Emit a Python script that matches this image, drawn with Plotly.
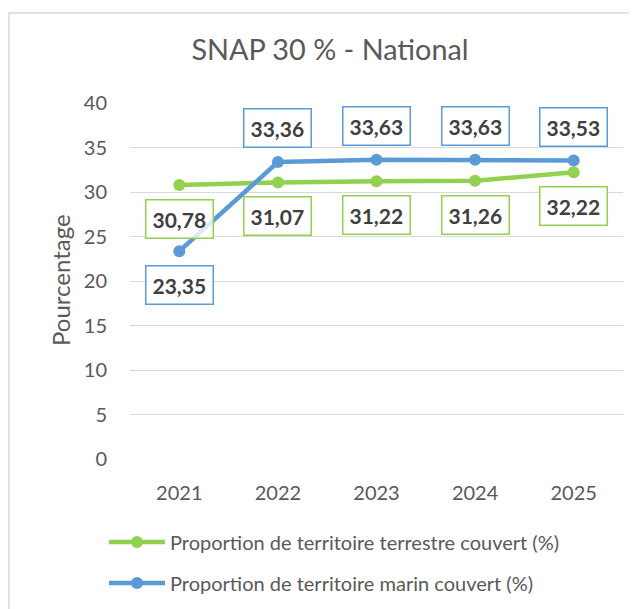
import plotly.graph_objects as go

years = ["2021", "2022", "2023", "2024", "2025"]
terrestre = [30.78, 31.07, 31.22, 31.26, 32.22]
marin = [23.35, 33.36, 33.63, 33.63, 33.53]
terrestre_labels = ["30,78", "31,07", "31,22", "31,26", "32,22"]
marin_labels = ["23,35", "33,36", "33,63", "33,63", "33,53"]
y_ticks = [0, 5, 10, 15, 20, 25, 30, 35, 40]

# label placement (style): +1 above the point, -1 below
terrestre_side = [-1, -1, -1, -1, -1]
marin_side = [-1, 1, 1, 1, 1]

GREEN = "#92D050"
BLUE = "#5B9BD5"
TXT = "#595959"
FONT = "Lato"

OFF = 8  # page body margin
W, H = 637 - OFF, 609 - OFF
L, R, T, B = 130 - OFF, W - (623 - OFF), 103 - OFF, H - (459 - OFF)
pw, ph = W - L - R, H - T - B

def px_x(sx):
    return (sx - OFF - L) / pw

def px_y(sy):
    return (H - B - (sy - OFF)) / ph

xi = list(range(len(years)))

fig = go.Figure()
fig.add_trace(go.Scatter(
    x=xi, y=terrestre, mode="lines+markers",
    name="Proportion de territoire terrestre couvert (%)",
    line=dict(color=GREEN, width=4.5), marker=dict(color=GREEN, size=12),
    legend="legend",
))
fig.add_trace(go.Scatter(
    x=xi, y=marin, mode="lines+markers",
    name="Proportion de territoire marin couvert (%)",
    line=dict(color=BLUE, width=4.5), marker=dict(color=BLUE, size=12),
    legend="legend2",
))

annotations = []
for vals, labs, sides, col in ((terrestre, terrestre_labels, terrestre_side, GREEN),
                               (marin, marin_labels, marin_side, BLUE)):
    for i, (yv, lab, sd) in enumerate(zip(vals, labs, sides)):
        annotations.append(dict(
            x=i, y=yv, xref="x", yref="y", text="<b>%s</b>" % lab, showarrow=False,
            yshift=34 * sd, font=dict(family=FONT, size=21, color="#404040"),
            bgcolor="rgba(255,255,255,0.8)", bordercolor=col, borderwidth=1.5, borderpad=6,
        ))
annotations.append(dict(
    x=px_x(60), y=px_y(280), xref="paper", yref="paper", text="Pourcentage",
    textangle=-90, showarrow=False, xanchor="center", yanchor="middle",
    font=dict(family=FONT, size=24, color=TXT),
))

fig.update_layout(
    width=W, height=H,
    margin=dict(l=L, r=R, t=T, b=B, autoexpand=False),
    paper_bgcolor="white", plot_bgcolor="white",
    font=dict(family=FONT, color=TXT),
    title=dict(text="SNAP 30 % - National", x=(330 - OFF) / W, xref="container", xanchor="center",
               y=1 - (50 - OFF) / H, yref="container", yanchor="middle",
               font=dict(family=FONT, size=28.8, color=TXT)),
    xaxis=dict(type="linear", range=[-0.5, 4.5], tickvals=xi, ticktext=years,
               showgrid=False, showline=False, zeroline=False,
               ticks="", tickfont=dict(family=FONT, size=20, color=TXT), ticklabelstandoff=20),
    yaxis=dict(range=[0, 40], tickvals=y_ticks, showgrid=True, gridcolor="#D9D9D9", gridwidth=1.3,
               zeroline=False, showline=False, ticks="",
               tickfont=dict(family=FONT, size=20, color=TXT), ticklabelstandoff=22),
    showlegend=True,
    legend=dict(x=px_x(104), xanchor="left", y=px_y(542), yanchor="middle",
                font=dict(family=FONT, size=20, color=TXT), bgcolor="rgba(0,0,0,0)",
                itemwidth=56),
    legend2=dict(x=px_x(104), xanchor="left", y=px_y(583), yanchor="middle",
                 font=dict(family=FONT, size=20, color=TXT), bgcolor="rgba(0,0,0,0)",
                 itemwidth=56),
    annotations=annotations,
    shapes=[dict(type="rect", xref="paper", yref="paper",
                 x0=px_x(9), x1=px_x(660), y0=px_y(640), y1=px_y(13),
                 line=dict(color="#D9D9D9", width=1.5), layer="below")],
)

fig.write_html("out.html")
